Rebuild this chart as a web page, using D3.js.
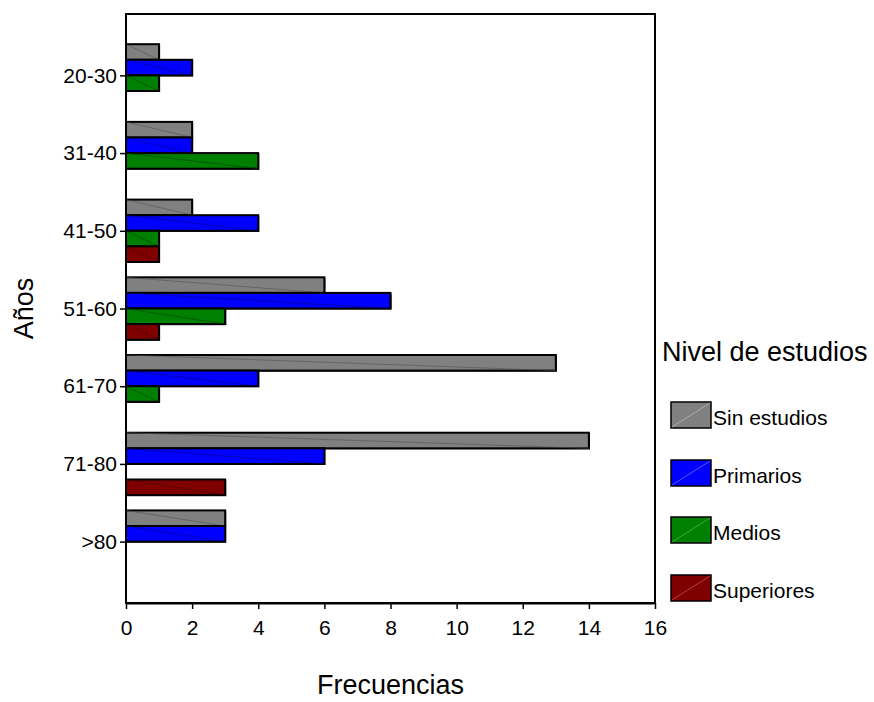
<!DOCTYPE html>
<html>
<head>
<meta charset="utf-8">
<script src="https://cdn.jsdelivr.net/npm/d3@7"></script>
<style>
  body { margin: 0; background: #fff; }
  text { font-family: Arial, "Liberation Sans", sans-serif; fill: #000; }
</style>
</head>
<body>
<script>
var categories = ['20-30', '31-40', '41-50', '51-60', '61-70', '71-80', '>80'];
var series = ['Sin estudios', 'Primarios', 'Medios', 'Superiores'];
var sinEstudios = [1, 2, 2, 6, 13, 14, 3];
var primarios = [2, 2, 4, 8, 4, 6, 3];
var medios = [1, 4, 1, 3, 1, 0, 0];
var superiores = [0, 0, 1, 1, 0, 3, 0];
var xTicks = [0, 2, 4, 6, 8, 10, 12, 14, 16];
var colors = ['#808080', '#0000ff', '#008000', '#800000'];
var lineColors = ['#505050', '#000080', '#004000', '#400000'];
var swatchLines = ['#c0c0c0', '#8080ff', '#60b060', '#c06060'];

var width = 874;
var height = 702;
var plot = { left: 126, right: 655, top: 14, bottom: 603 };
var barH = 15.6;
var tickFont = 21;
var titleFont = 27;

var values = [sinEstudios, primarios, medios, superiores];

var x = d3.scaleLinear()
    .domain([0, 16])
    .range([plot.left, plot.right]);

var y = d3.scalePoint()
    .domain(categories)
    .range([plot.top, plot.bottom])
    .padding(0.79);

var svg = d3.select('body')
    .append('svg')
    .attr('width', width)
    .attr('height', height);

// bars
var rows = [];
categories.forEach(function(c, i) {
    series.forEach(function(s, j) {
        rows.push({ cat: c, s: j, v: values[j][i] });
    });
});
rows = rows.filter(function(d) { return d.v > 0; });

var bar = svg.append('g').selectAll('g')
    .data(rows)
    .enter()
    .append('g');

function by(d) { return y(d.cat) - 2 * barH + d.s * barH; }

bar.append('rect')
    .attr('x', x(0) + 1)
    .attr('y', function(d) { return by(d) + 1; })
    .attr('width', function(d) { return x(d.v) - x(0); })
    .attr('height', barH)
    .attr('fill', '#000');

bar.append('rect')
    .attr('x', x(0))
    .attr('y', by)
    .attr('width', function(d) { return x(d.v) - x(0); })
    .attr('height', barH)
    .attr('fill', function(d) { return colors[d.s]; })
    .attr('stroke', '#000')
    .attr('stroke-width', 2);

bar.append('line')
    .attr('x1', x(0))
    .attr('y1', by)
    .attr('x2', function(d) { return x(d.v); })
    .attr('y2', function(d) { return by(d) + barH; })
    .attr('stroke', function(d) { return lineColors[d.s]; })
    .attr('stroke-width', 0.8)
    .attr('opacity', 0.7);

// frame
svg.append('rect')
    .attr('x', plot.left)
    .attr('y', plot.top)
    .attr('width', plot.right - plot.left)
    .attr('height', plot.bottom - plot.top)
    .attr('fill', 'none')
    .attr('stroke', '#000')
    .attr('stroke-width', 2);

// axes
var xAxis = svg.append('g')
    .attr('transform', 'translate(0,' + plot.bottom + ')')
    .call(d3.axisBottom(x).tickValues(xTicks).tickSize(6).tickSizeOuter(0));
xAxis.select('.domain').attr('stroke-width', 2);
xAxis.selectAll('.tick line').attr('stroke-width', 1.5);
xAxis.selectAll('text')
    .attr('font-size', tickFont)
    .attr('dy', '1.1em')
    .style('font-family', 'Arial, "Liberation Sans", sans-serif');

var yAxis = svg.append('g')
    .attr('transform', 'translate(' + plot.left + ',0)')
    .call(d3.axisLeft(y).tickSize(6).tickSizeOuter(0));
yAxis.select('.domain').remove();
yAxis.selectAll('.tick line').attr('stroke-width', 1.5);
yAxis.selectAll('text')
    .attr('font-size', tickFont)
    .attr('x', -9)
    .style('font-family', 'Arial, "Liberation Sans", sans-serif');

// titles
svg.append('text')
    .attr('x', (plot.left + plot.right) / 2)
    .attr('y', 694)
    .attr('text-anchor', 'middle')
    .attr('font-size', titleFont)
    .text('Frecuencias');

svg.append('text')
    .attr('transform', 'translate(33,' + ((plot.top + plot.bottom) / 2) + ') rotate(-90)')
    .attr('text-anchor', 'middle')
    .attr('font-size', titleFont)
    .text('Años');

// legend
svg.append('text')
    .attr('x', 662)
    .attr('y', 361)
    .attr('font-size', titleFont)
    .text('Nivel de estudios');

var legendY = [402, 460, 517, 575];
var leg = svg.append('g').selectAll('g')
    .data(series)
    .enter()
    .append('g')
    .attr('transform', function(d, i) { return 'translate(671,' + legendY[i] + ')'; });

leg.append('rect')
    .attr('width', 40)
    .attr('height', 26)
    .attr('fill', function(d, i) { return colors[i]; })
    .attr('stroke', '#000')
    .attr('stroke-width', 1.5);

leg.append('line')
    .attr('x1', 1).attr('y1', 25)
    .attr('x2', 39).attr('y2', 1)
    .attr('stroke', function(d, i) { return swatchLines[i]; })
    .attr('stroke-width', 0.7);

leg.append('text')
    .attr('x', 42)
    .attr('y', 23)
    .attr('font-size', tickFont)
    .text(function(d) { return d; });
</script>
</body>
</html>
